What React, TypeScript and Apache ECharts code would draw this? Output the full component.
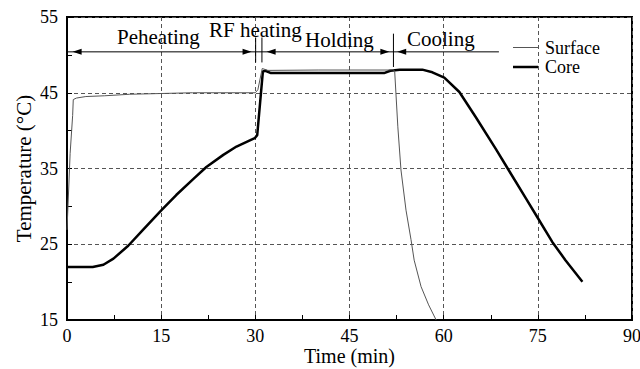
import React, { useEffect, useRef } from "react";
import * as echarts from "echarts";

const xTicks = [0, 15, 30, 45, 60, 75, 90];
const yTicks = [15, 25, 35, 45, 55];

const surfaceTime = [0, 0.5, 0.9, 1.0, 1.5, 3, 6, 10, 15, 20, 30, 30.4, 31.1, 32, 40, 51, 52.0, 52.2, 52.7, 53.2, 54.0, 54.8, 55.3, 56.4, 57.6, 58.8];
const surfaceTemp = [26.9, 37, 42, 44.1, 44.3, 44.5, 44.6, 44.8, 44.9, 45, 45, 45.4, 48.2, 47.95, 48, 48, 48.05, 47.8, 40.5, 34.8, 29.5, 25.6, 22.9, 19.4, 17, 15];

const coreTime = [0, 2, 4.1, 5.8, 7.4, 9.75, 12.1, 15.05, 17.4, 20.1, 22.2, 24.9, 27.0, 29.9, 30.3, 31.2, 31.6, 32.5, 45, 50.5, 51.5, 53, 56.6, 58.2, 60.1, 62.5, 65.1, 68.3, 70.2, 73.1, 74.9, 77.3, 79.4, 82.1];
const coreTemp = [22, 22, 22.0, 22.3, 23.1, 24.8, 26.9, 29.5, 31.5, 33.6, 35.2, 36.8, 37.9, 39.0, 39.4, 47.8, 47.9, 47.6, 47.6, 47.6, 47.9, 48.05, 48.05, 47.7, 47.0, 45.1, 41.8, 37.6, 35.0, 31.05, 28.6, 25.3, 22.9, 20.05];

const phaseNames = ["Peheating", "RF heating", "Holding", "Cooling"];
const seriesNames = ["Surface", "Core"];

const FONT = "Liberation Serif";

export default function App() {
  const ref = useRef<HTMLDivElement>(null);
  useEffect(() => {
    if (!ref.current) return;
    const chart = echarts.init(ref.current, null, { renderer: "svg" });
    const zip = (a: number[], b: number[]) => a.map((t, i) => [t, b[i]]);
    const seriesColors = ["#555", "#000"];
    const seriesWidths = [1, 2.5];
    chart.setOption({
      animation: false,
      backgroundColor: "#fff",
      grid: { left: 67, right: 8, top: 17, bottom: 49, show: true, borderColor: "#000", borderWidth: 2, outerBoundsMode: "none", containLabel: false },
      xAxis: {
        type: "value",
        min: xTicks[0],
        max: xTicks[xTicks.length - 1],
        interval: 15,
        name: "Time (min)",
        nameLocation: "middle",
        nameGap: 26,
        nameMoveOverlap: false,
        nameTextStyle: { fontFamily: FONT, fontSize: 20, color: "#000" },
        axisLine: { lineStyle: { color: "#000", width: 2 } },
        axisTick: { inside: true, length: 5, lineStyle: { color: "#000" } },
        minorTick: { show: true, splitNumber: 2, length: 5, lineStyle: { color: "#000" } },
        axisLabel: { fontFamily: FONT, fontSize: 18, color: "#000", margin: 7 },
        splitLine: { show: true, lineStyle: { color: "#555", type: [4, 3], width: 1 } },
      },
      yAxis: {
        type: "value",
        min: yTicks[0],
        max: yTicks[yTicks.length - 1],
        interval: 10,
        name: "Temperature (\u00B0C)",
        nameLocation: "middle",
        nameGap: 33,
        nameMoveOverlap: false,
        nameTextStyle: { fontFamily: FONT, fontSize: 21, color: "#000" },
        axisLine: { show: true, lineStyle: { color: "#000", width: 2 } },
        axisTick: { show: true, inside: true, length: 5, lineStyle: { color: "#000" } },
        minorTick: { show: true, splitNumber: 2, length: 5, lineStyle: { color: "#000" } },
        axisLabel: { fontFamily: FONT, fontSize: 18, color: "#000", margin: 9 },
        splitLine: { show: true, lineStyle: { color: "#555", type: [4, 3], width: 1 } },
      },
      series: [
        {
          name: seriesNames[0],
          type: "line",
          data: zip(surfaceTime, surfaceTemp),
          symbol: "none",
          lineStyle: { color: seriesColors[0], width: seriesWidths[0] },
          itemStyle: { color: seriesColors[0] },
          z: 3,
        },
        {
          name: seriesNames[1],
          type: "line",
          data: zip(coreTime, coreTemp),
          symbol: "none",
          lineStyle: { color: seriesColors[1], width: seriesWidths[1] },
          itemStyle: { color: seriesColors[1] },
          z: 2,
        },
      ],
    });

    const p = (t: number, v: number) => chart.convertToPixel({ gridIndex: 0 }, [t, v]) as number[];
    const arrowV = 50.4;
    const elems: any[] = [];
    const a0 = p(0, arrowV);
    const a1 = p(68.8, arrowV);
    elems.push({ type: "line", shape: { x1: a0[0], y1: a0[1], x2: a1[0], y2: a1[1] }, style: { stroke: "#000", lineWidth: 1 } });
    const tips: [number, number][] = [[0.9, -1], [29.4, 1], [31.8, -1], [51.35, 1], [52.6, -1]];
    tips.forEach(([t, d]) => {
      const [x, y] = p(t, arrowV);
      elems.push({
        type: "polygon",
        shape: { points: [[x, y], [x - d * 9, y - 3], [x - d * 9, y + 3]] },
        style: { fill: "#000" },
      });
    });
    const vlines: [number, number, number][] = [[30.05, 49.0, 52.3], [31.05, 49.0, 52.3], [52.0, 48.4, 52.8]];
    vlines.forEach(([t, v0, v1]) => {
      const q0 = p(t, v0);
      const q1 = p(t, v1);
      elems.push({ type: "line", shape: { x1: q0[0], y1: q0[1], x2: q1[0], y2: q1[1] }, style: { stroke: "#000", lineWidth: 1 } });
    });
    const labelPos: [number, number][] = [[117, 37], [209, 30], [305, 40], [407, 39]];
    phaseNames.forEach((name, i) => {
      elems.push({
        type: "text",
        x: labelPos[i][0],
        y: labelPos[i][1],
        style: { text: name, fontFamily: FONT, fontSize: 21, fill: "#000", align: "left", verticalAlign: "middle" },
      });
    });
    const legendY = [47.5, 67];
    seriesNames.forEach((name, i) => {
      elems.push({
        type: "line",
        shape: { x1: 513, y1: legendY[i], x2: 538, y2: legendY[i] },
        style: { stroke: seriesColors[i], lineWidth: seriesWidths[i] },
      });
      elems.push({
        type: "text",
        x: 545,
        y: legendY[i],
        style: { text: name, fontFamily: FONT, fontSize: 18, fill: "#000", align: "left", verticalAlign: "middle" },
      });
    });
    chart.setOption({ graphic: elems });
    return () => chart.dispose();
  }, []);
  return <div ref={ref} style={{ position: "fixed", left: 0, top: 0, width: 640, height: 369, background: "#fff" }} />;
}
